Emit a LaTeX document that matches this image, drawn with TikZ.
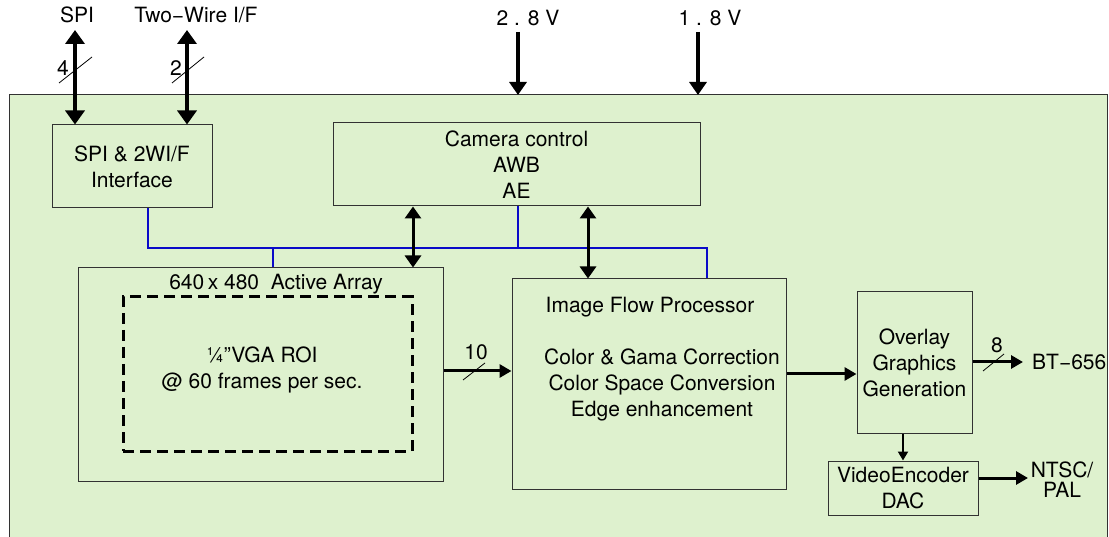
\documentclass[tikz,border=0pt]{standalone}
\usepackage{fontspec}
\setmainfont{TeX Gyre Heros}
\usetikzlibrary{arrows.meta}
\definecolor{bggreen}{RGB}{222,241,206}
\definecolor{boxline}{RGB}{50,50,50}
\definecolor{busblue}{RGB}{10,10,200}
\begin{document}
\begin{tikzpicture}[x=1pt,y=-1pt,
  every node/.style={font=\fontsize{21}{26}\selectfont, inner sep=0pt},
  blk/.style={draw=boxline, line width=1pt, fill=bggreen, align=center},
  lbl/.style={align=center},
  bus/.style={draw=busblue, line width=1.4pt},
  bigdbl/.style={line width=4pt, {Triangle[length=14pt,width=19pt]}-{Triangle[length=14pt,width=19pt]}},
  pwr/.style={line width=3.5pt, -{Triangle[length=13pt,width=17pt]}},
  meddbl/.style={line width=3pt, {Triangle[length=12pt,width=16pt]}-{Triangle[length=12pt,width=16pt]}},
  harr/.style={line width=3pt, -{Triangle[length=12pt,width=13pt]}},
  thinarr/.style={line width=2pt, -{Triangle[length=9pt,width=10pt]}},
  slashmark/.style={line width=0.8pt}
]
\useasboundingbox (0,0) rectangle (1109,537);
% background chip area
\fill[bggreen] (9,95) rectangle (1107,537);
\draw[boxline, line width=1pt] (9,537) -- (9,95) -- (1107,95) -- (1107,537);

% blocks
\node[blk, minimum width=160pt, minimum height=83pt] (spi) at (132,166.5) {SPI \& 2WI/F\\Interface};
\node[blk, minimum width=367pt, minimum height=83pt] (cam) at (516.5,164.5) {Camera control\\AWB\\AE};
\node[blk, minimum width=365pt, minimum height=213pt] (act) at (260.5,374.5) {};
\node[draw, line width=3pt, dash pattern=on 11pt off 6pt, minimum width=289pt, minimum height=154pt] (roi) at (267.5,374) {};
\node[blk, minimum width=274pt, minimum height=210pt] (ifp) at (649,384) {};
\node[blk, minimum width=115pt, minimum height=141pt] (ovl) at (914.5,362.5) {Overlay\\Graphics\\Generation};
\node[blk, minimum width=150pt, minimum height=54pt] (venc) at (903,488) {VideoEncoder\\DAC};

% texts inside
\node[lbl] (acttxt) at (276,284) {640\,x 480~~Active Array};
\node[lbl] (roitxt) at (262,370) {¼”VGA ROI\\@ 60 frames per sec.};
\node[lbl] (ifptitle) at (650,307) {Image Flow Processor};
\node[lbl] (ifpbody) at (662,385) {Color \& Gama Correction\\Color Space Conversion\\Edge enhancement};

% external labels
\node (spilbl) at (77,15) {SPI};
\node (twlbl) at (196,15) {Two−Wire I/F};
\node (v28) at (528,18) {2 . 8 V};
\node (v18) at (710,18) {1 . 8 V};
\node[anchor=west] (bt) at (1032,362) {BT−656};
\node[align=center, font=\fontsize{21}{20}\selectfont] (ntsc) at (1062,480) {NTSC/\\PAL};

% helper coordinates
\coordinate (spiT) at (75,30);
\coordinate (twT) at (187,30);
\coordinate (v28s) at (518,32);
\coordinate (v18s) at (698,32);
\coordinate (v28e) at (518,95);
\coordinate (v18e) at (698,95);
\coordinate (b1) at (148,248);
\coordinate (b2) at (707,248);
\coordinate (b3) at (518,248);
\coordinate (b4) at (273,248);
\coordinate (c1) at (413,0);
\coordinate (c2) at (588,0);
\coordinate (y371) at (0,371);
\coordinate (y374) at (0,374);
\coordinate (y362) at (0,362);
\coordinate (y478) at (0,478);
\coordinate (x903) at (903,0);
\coordinate (btin) at (1023,362);
\coordinate (ntscin) at (1028,478);

% SPI / two-wire
\draw[bigdbl] (spiT) -- (spiT |- spi.north);
\draw[bigdbl] (twT) -- (twT |- spi.north);
\draw[slashmark] (59,83) -- (92,57);
\node (n4) at (63,68) {4};
\draw[slashmark] (172,83) -- (204,57);
\node (n2) at (176,68) {2};

% power
\draw[pwr] (v28s) -- (v28e);
\draw[pwr] (v18s) -- (v18e);

% blue bus
\draw[bus] (b1 |- spi.south) -- (b1) -- (b2) -- (b2 |- ifp.north);
\draw[bus] (b3 |- cam.south) -- (b3);
\draw[bus] (b4) -- (b4 |- act.north);

% camera control double arrows
\draw[meddbl] (c1 |- cam.south) -- (c1 |- act.north);
\draw[meddbl] (c2 |- cam.south) -- (c2 |- ifp.north);

% data path
\draw[harr] (act.east |- y371) -- (ifp.west |- y371);
\draw[slashmark] (463,380) -- (485,363);
\node (n10) at (476,352) {10};
\draw[harr] (ifp.east |- y374) -- (ovl.west |- y374);
\draw[harr] (ovl.east |- y362) -- (btin);
\draw[slashmark] (983,371) -- (1004,354);
\node (n8) at (997,345) {8};
\draw[thinarr] (x903 |- ovl.south) -- (x903 |- venc.north);
\draw[harr] (venc.east |- y478) -- (ntscin);
\end{tikzpicture}
\end{document}
